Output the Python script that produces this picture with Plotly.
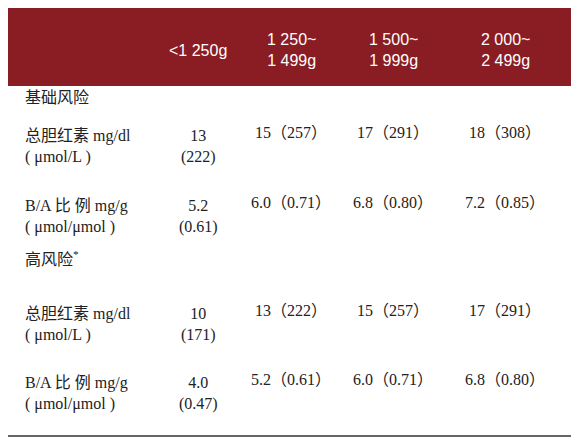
import plotly.graph_objects as go

header = ["", "<1 250g", "1 250~<br>1 499g", "1 500~<br>1 999g", "2 000~<br>2 499g"]
row_labels = ["基础风险", "总胆红素 mg/dl<br>( μmol/L )", "B/A 比 例 mg/g<br>( μmol/μmol )",
              "高风险<sup>*</sup>", "总胆红素 mg/dl<br>( μmol/L )", "B/A 比 例 mg/g<br>( μmol/μmol )"]
col1 = ["", "13<br>(222)", "5.2<br>(0.61)", "", "10<br>(171)", "4.0<br>(0.47)"]
col2 = ["", "15（257）", "6.0（0.71）", "", "13（222）", "5.2（0.61）"]
col3 = ["", "17（291）", "6.8（0.80）", "", "15（257）", "6.0（0.71）"]
col4 = ["", "18（308）", "7.2（0.85）", "", "17（291）", "6.8（0.80）"]

W, H = 579, 440
col_x = [190, 283, 385, 497]
row_y = [89, 138, 208, 250, 316, 385]

fig = go.Figure()
fig.add_shape(type="rect", x0=0, x1=567, y0=0, y1=78, fillcolor="#8a1c24", line_width=0, layer="below")
fig.add_shape(type="line", x0=0, x1=567, y0=428, y1=428, line=dict(color="#333", width=1.5))

serif = "Liberation Serif, Noto Sans CJK SC"
for x, h in zip(col_x, header[1:]):
    fig.add_annotation(x=x, y=42, text=h, showarrow=False, align="center",
                       font=dict(color="white", size=16, family="Liberation Sans"))
for i, lab in enumerate(row_labels):
    fig.add_annotation(x=15, y=row_y[i], text=lab, showarrow=False, xanchor="left", align="left",
                       font=dict(size=16, color="#222", family=serif))
    for x, col in zip(col_x, [col1, col2, col3, col4]):
        if not col[i]:
            continue
        two = "<br>" in col[i]
        y = row_y[i] if two else row_y[i] - 14
        fig.add_annotation(x=x, y=y, text=col[i], showarrow=False, align="center",
                           font=dict(size=16, color="#222", family=serif))

fig.update_xaxes(range=[0, W], visible=False)
fig.update_yaxes(range=[H, 0], visible=False)
fig.update_layout(width=W, height=H, margin=dict(l=0, r=0, t=0, b=0),
                  plot_bgcolor="white", paper_bgcolor="white")
fig.write_html("out.html")
